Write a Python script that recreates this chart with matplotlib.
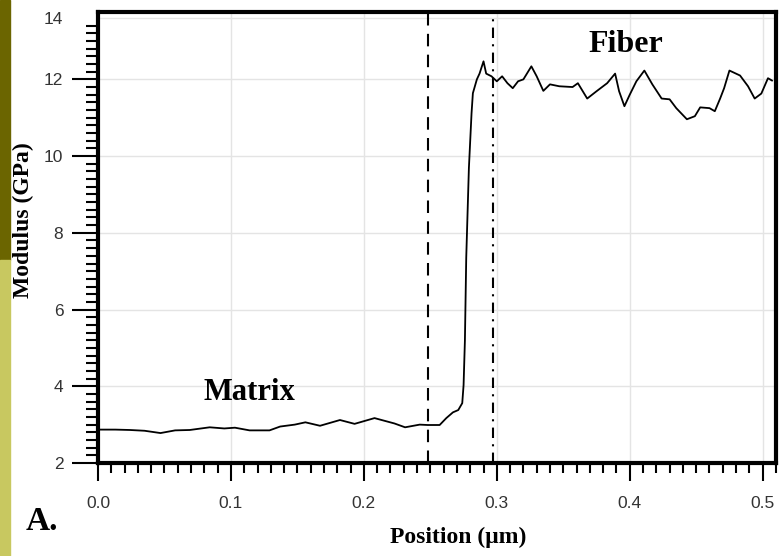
import matplotlib
matplotlib.use('AGG')
import matplotlib.pyplot as plt
from matplotlib.patches import Rectangle
from matplotlib.ticker import MultipleLocator

# modulus profile across the matrix / fiber interface
position = [0.0, 0.013, 0.024, 0.035, 0.047, 0.058, 0.069, 0.084, 0.095, 0.103,
            0.114, 0.129, 0.137, 0.148, 0.156, 0.167, 0.182, 0.193, 0.208, 0.223,
            0.231, 0.242, 0.248, 0.257, 0.262, 0.267, 0.271, 0.274, 0.275, 0.276,
            0.277, 0.279, 0.281, 0.282, 0.285, 0.287, 0.290, 0.292, 0.296, 0.300,
            0.304, 0.308, 0.312, 0.316, 0.320, 0.326, 0.330, 0.335, 0.340, 0.347,
            0.357, 0.361, 0.368, 0.375, 0.383, 0.389, 0.392, 0.396, 0.400, 0.405,
            0.411, 0.417, 0.424, 0.430, 0.435, 0.443, 0.449, 0.453, 0.460, 0.464,
            0.468, 0.471, 0.475, 0.483, 0.489, 0.494, 0.499, 0.504, 0.507]
modulus = [2.87, 2.87, 2.86, 2.84, 2.78, 2.85, 2.86, 2.93, 2.90, 2.92,
           2.85, 2.85, 2.95, 3.00, 3.06, 2.97, 3.12, 3.02, 3.17, 3.03,
           2.93, 3.00, 2.99, 2.99, 3.17, 3.32, 3.38, 3.56, 4.03, 5.19,
           7.35, 9.69, 11.12, 11.64, 12.0, 12.15, 12.47, 12.15, 12.08, 11.95,
           12.08, 11.9, 11.77, 11.95, 12.0, 12.34, 12.08, 11.7, 11.87, 11.82,
           11.8, 11.9, 11.5, 11.69, 11.9, 12.15, 11.69, 11.3, 11.6, 11.95,
           12.23, 11.87, 11.5, 11.48, 11.25, 10.96, 11.04, 11.27, 11.25, 11.17,
           11.5, 11.77, 12.23, 12.1, 11.82, 11.5, 11.63, 12.03, 11.97]

boundaries = [0.248, 0.297]
ytick_vals = [2, 4, 6, 8, 10, 12]
xtick_vals = [0.0, 0.1, 0.2, 0.3, 0.4, 0.5]

serif = ['Liberation Serif', 'DejaVu Serif']
sans = ['Liberation Sans', 'DejaVu Sans']

fig = plt.figure(figsize=(7.83, 5.56), dpi=100)
fig.patches.append(Rectangle((0, 0.532), 0.013, 0.468, transform=fig.transFigure,
                             color='#6b6500', zorder=0))
fig.patches.append(Rectangle((0, 0), 0.013, 0.532, transform=fig.transFigure,
                             color='#c8c860', zorder=0))

ax = fig.add_axes([0.1252, 0.1673, 0.8658, 0.8107])

ax.plot(position, modulus, color='black', lw=1.3, zorder=3)
ax.axvline(boundaries[0], color='black', lw=1.5, ls=(0, (6, 4)), zorder=2)
ax.axvline(boundaries[1], color='black', lw=1.5, ls=(0, (5, 3, 1, 3)), zorder=2)

ax.set_xlim(0, 0.51)
ax.set_ylim(2, 13.75)

ax.set_xticks(xtick_vals)
ax.set_xticklabels(['%.1f' % v for v in xtick_vals])
ax.set_yticks(ytick_vals + [13.6])
ax.set_yticklabels([str(v) for v in ytick_vals] + ['14'])
ax.yaxis.get_major_ticks()[-1].tick1line.set_visible(False)
ax.xaxis.set_minor_locator(MultipleLocator(0.01))
ax.yaxis.set_minor_locator(MultipleLocator(0.2))

ax.tick_params(axis='x', which='major', direction='out', length=13, width=1.5,
               pad=11, labelsize=12.5, labelcolor='#333333')
ax.tick_params(axis='x', which='minor', direction='out', length=7, width=1.5)
ax.tick_params(axis='y', which='major', direction='out', length=19, width=1.5,
               pad=6, labelsize=12.5, labelcolor='#333333')
ax.tick_params(axis='y', which='minor', direction='out', length=8.5, width=1.5)
for lab in ax.get_xticklabels() + ax.get_yticklabels():
    lab.set_family(sans)

ax.grid(True, which='major', color='#e4e4e4', lw=1)
ax.set_axisbelow(True)
for side in ['left', 'bottom', 'top', 'right']:
    ax.spines[side].set_linewidth(3)

ax.set_xlabel('Position (\u03bcm)', family=serif, fontweight='bold', fontsize=17)
ax.xaxis.set_label_coords(0.531, -0.142)
ax.set_ylabel('Modulus (GPa)', family=serif, fontweight='bold', fontsize=17)
ax.yaxis.set_label_coords(-0.095, 0.539)

ax.text(0.114, 3.83, 'Matrix', family=serif, fontweight='bold', fontsize=22,
        ha='center', va='center')
ax.text(0.397, 12.91, 'Fiber', family=serif, fontweight='bold', fontsize=23,
        ha='center', va='center')
fig.text(0.054, 0.062, 'A.', family=serif, fontweight='bold', fontsize=24,
         ha='center', va='center')

fig.savefig('out.png', dpi=100)
